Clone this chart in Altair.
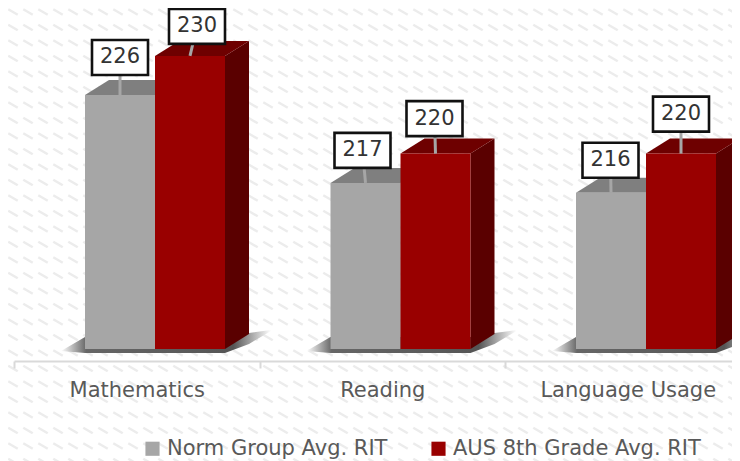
import altair as alt
import pandas as pd

categories = ["Mathematics", "Reading", "Language Usage"]
series = ["Norm Group Avg. RIT", "AUS 8th Grade Avg. RIT"]
norm_values = [226, 217, 216]
aus_values = [230, 220, 220]

# chart geometry
W, H = 724, 353
PX_X = 245.5          # pixels per category
PX_Y = 9.77           # pixels per RIT point
X0 = 6                # left end of axis inside svg
BASE = 200
Y_BOTTOM = BASE - 12 / PX_Y
Y_TOP = BASE + 341 / PX_Y


def dx(px):
    return px / PX_X


def dy(px):
    return px / PX_Y


BAR_START = {series[0]: dx(71), series[1]: dx(141)}
BAR_W = dx(70)
DEPTH_X, DEPTH_Y = dx(24), dy(15)
# label box nudges (pixels, from centre of bar top)
label_nudge = {
    series[0]: [(0, 37.5), (-3, 32.5), (-0.5, 32.5)],
    series[1]: [(7, 29.5), (-1, 35), (0, 39.5)],
}
BOX_W, BOX_H = 56, 35

x_enc = alt.X("x:Q", axis=None, scale=alt.Scale(domain=[-X0 / PX_X, (W - X0) / PX_X], nice=False, zero=False))
y_enc = alt.Y("y:Q", axis=None, scale=alt.Scale(domain=[Y_BOTTOM, Y_TOP], nice=False, zero=False))

# --- background texture ---
tex = []
for r in range(0, 30):
    for c in range(0, 50):
        tex.append({"x": dx(c * 15 - X0 + 5), "y": BASE + dy(341 - 4 - r * 15.5)})
texture = alt.Chart(pd.DataFrame(tex)).mark_point(
    shape="M-1,-0.6L1,0.6", size=90, stroke="#ececec", strokeWidth=2.4, fill=None, opacity=1, clip=False
).encode(x=x_enc, y=y_enc)

# --- invisible layer carrying the category axis ---
axis_layer = alt.Chart(pd.DataFrame({"cat": categories, "y": [BASE] * 3})).mark_point(opacity=0).encode(
    x=alt.X(
        "cat:N",
        sort=categories,
        title=None,
        scale=alt.Scale(range=[X0, X0 + 3 * PX_X], paddingInner=0, paddingOuter=0),
        axis=alt.Axis(
            tickBand="extent", labelAngle=0, domainColor="#d9d9d9", domainWidth=2, tickColor="#d9d9d9",
            tickWidth=2, tickSize=7, labelFontSize=21, labelColor="#595959", labelFont="DejaVu Sans",
            labelPadding=11, grid=False, zindex=1,
        ),
    ),
    y=y_enc,
)

# --- shadows ---
shadow_rows = []
for i in range(3):
    s = i + BAR_START[series[0]]
    e = i + BAR_START[series[1]] + BAR_W
    pts = [
        (s - dx(24), BASE - dy(2), BASE - dy(2)),
        (s, BASE + dy(12), BASE - dy(4)),
        (e, BASE + dy(12), BASE - dy(4)),
        (e + dx(24), BASE + dy(16), BASE + dy(5)),
        (e + dx(46), BASE + dy(19), BASE + dy(18)),
    ]
    for x, y, y2 in pts:
        shadow_rows.append({"k": i, "x": x, "y": y, "y2": y2})
shadow = alt.Chart(pd.DataFrame(shadow_rows)).mark_area(
    color=alt.Gradient(
        gradient="linear", x1=0, x2=1, y1=0, y2=0,
        stops=[
            alt.GradientStop(color="#ffffff", offset=0),
            alt.GradientStop(color="#666666", offset=0.12),
            alt.GradientStop(color="#555555", offset=0.82),
            alt.GradientStop(color="#ffffff", offset=1),
        ],
    )
).encode(x=x_enc, y=y_enc, y2="y2:Q", detail="k:N")


def faces(values, start, top_color, side_color):
    top, side = [], []
    for i, v in enumerate(values):
        x0 = i + start
        x1 = x0 + BAR_W
        top += [
            {"k": i, "x": x0, "y": v, "y2": v},
            {"k": i, "x": x0 + DEPTH_X, "y": v + DEPTH_Y, "y2": v},
            {"k": i, "x": x1, "y": v + DEPTH_Y, "y2": v},
            {"k": i, "x": x1 + DEPTH_X, "y": v + DEPTH_Y, "y2": v + DEPTH_Y},
        ]
        side += [
            {"k": i, "x": x1, "y": v, "y2": BASE},
            {"k": i, "x": x1 + DEPTH_X, "y": v + DEPTH_Y, "y2": BASE + DEPTH_Y},
        ]
    return [
        alt.Chart(pd.DataFrame(side)).mark_area(color=side_color).encode(x=x_enc, y=y_enc, y2="y2:Q", detail="k:N"),
        alt.Chart(pd.DataFrame(top)).mark_area(color=top_color).encode(x=x_enc, y=y_enc, y2="y2:Q", detail="k:N"),
    ]


front_rows = []
for name, vals in zip(series, [norm_values, aus_values]):
    for i, v in enumerate(vals):
        front_rows.append({
            "series": name, "x": i + BAR_START[name], "x2": i + BAR_START[name] + BAR_W, "y": v, "y2": BASE,
        })
color_scale = alt.Scale(domain=series, range=["#a6a6a6", "#990000"])


def fronts(name):
    return alt.Chart(pd.DataFrame([r for r in front_rows if r["series"] == name])).mark_rect().encode(
        x=x_enc, x2="x2:Q", y=y_enc, y2="y2:Q",
        color=alt.Color("series:N", scale=color_scale, title=None,
                        legend=alt.Legend(
                            orient="none", legendX=134, legendY=430, direction="horizontal", title=None,
                            symbolType="square", symbolSize=200, symbolStrokeWidth=0, labelFontSize=21,
                            labelFont="DejaVu Sans", labelColor="#595959", columnPadding=40, labelOffset=4,
                            labelLimit=400, values=series, zindex=1,
                        )),
    )


# --- labels ---
leader_rows, box_rows, text_rows = [], [], []
for name, vals in zip(series, [norm_values, aus_values]):
    for i, v in enumerate(vals):
        nx, ny = label_nudge[name][i]
        cx = i + BAR_START[name] + BAR_W / 2
        bx, by = cx + dx(nx), v + dy(ny)
        leader_rows.append({"x": cx, "x2": bx, "y": v, "y2": by})
        box_rows.append({"x": bx - dx(BOX_W / 2), "x2": bx + dx(BOX_W / 2), "y": by - dy(BOX_H / 2), "y2": by + dy(BOX_H / 2)})
        text_rows.append({"x": bx, "y": by, "t": str(v)})

leaders = alt.Chart(pd.DataFrame(leader_rows)).mark_rule(color="#a6a6a6", strokeWidth=3).encode(
    x=x_enc, x2="x2:Q", y=y_enc, y2="y2:Q")
boxes = alt.Chart(pd.DataFrame(box_rows)).mark_rect(fill="#ffffff", stroke="#111111", strokeWidth=2.6).encode(
    x=x_enc, x2="x2:Q", y=y_enc, y2="y2:Q")
texts = alt.Chart(pd.DataFrame(text_rows)).mark_text(
    font="DejaVu Sans", fontSize=21, color="#333333", align="center", baseline="middle"
).encode(x=x_enc, y=y_enc, text="t:N")

layers = [texture, axis_layer, shadow]
layers += faces(norm_values, BAR_START[series[0]], "#7f7f7f", "#6e6e6e") + [fronts(series[0])]
layers += faces(aus_values, BAR_START[series[1]], "#6e0000", "#5a0000") + [fronts(series[1])]
layers += [leaders, boxes, texts]

chart = alt.layer(*layers).resolve_scale(x="independent").properties(
    width=W, height=H,
    autosize=alt.AutoSizeParams(type="none"),
    padding={"left": 0, "top": 0, "right": 0, "bottom": 100},
    background="#ffffff",
).configure_view(stroke=None)

chart.save("out.html", embed_options={"renderer": "svg", "actions": False})
